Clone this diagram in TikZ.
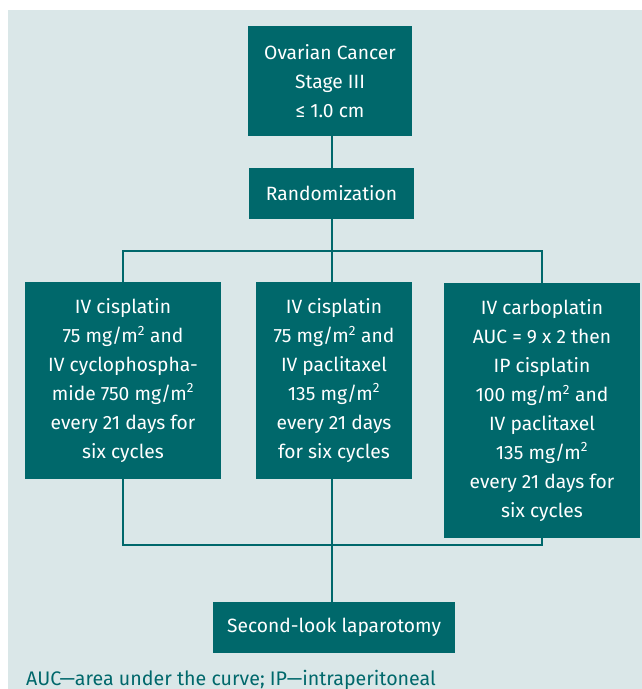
\documentclass[tikz,border=0pt]{standalone}
\usepackage{fontspec}
\setmainfont{Fira Sans}
\definecolor{teal0}{RGB}{0,104,107}
\definecolor{panel}{RGB}{218,231,232}
\begin{document}
\begin{tikzpicture}[x=1bp,y=-1bp,
  box/.style={fill=teal0,text=white,align=center,inner sep=0pt,
    font=\fontsize{19.3}{29}\selectfont},
  conn/.style={draw=teal0,line width=2bp}]
\useasboundingbox (0,0) rectangle (642,689);
\fill[panel] (8,10) rectangle (642,689);
\node[box,minimum width=164bp,minimum height=110bp] (top) at (330,81) {Ovarian Cancer\\Stage III\\≤ 1.0 cm};
\node[box,minimum width=165bp,minimum height=51bp] (rand) at (331.5,193.5) {Randomization};
\node[box,minimum width=196bp,minimum height=197bp] (left) at (123,380.5) {IV cisplatin\\75 mg/m\textsuperscript{2} and\\IV cyclophospha-\\mide 750 mg/m\textsuperscript{2}\\every 21 days for\\six cycles};
\node[box,minimum width=156bp,minimum height=197bp] (mid) at (334,380.5) {IV cisplatin\\75 mg/m\textsuperscript{2} and\\IV paclitaxel\\135 mg/m\textsuperscript{2}\\every 21 days\\for six cycles};
\node[box,minimum width=196bp,minimum height=255bp] (right) at (542,410.5) {IV carboplatin\\AUC = 9 x 2 then\\IP cisplatin\\100 mg/m\textsuperscript{2} and\\IV paclitaxel\\135 mg/m\textsuperscript{2}\\every 21 days for\\six cycles};
\node[box,minimum width=242bp,minimum height=51bp] (bottom) at (334,627.5) {Second-look laparotomy};
\node[anchor=base west,inner sep=0pt,text=teal0,font=\fontsize{19.7}{22}\selectfont] (cap) at (26,685) {AUC—area under the curve; IP—intraperitoneal};
\coordinate (hj) at (332,251);
\coordinate (bj) at (332,545);
\draw[conn] (top.south -| hj) -- (rand.north -| hj);
\draw[conn] (rand.south -| hj) -- (hj);
\draw[conn] (left.north) -- (left.north |- hj) -- (right.north |- hj) -- (right.north);
\draw[conn] (hj) -- (mid.north -| hj);
\draw[conn] (left.south) -- (left.south |- bj) -- (right.south |- bj) -- (right.south);
\draw[conn] (mid.south -| bj) -- (bj);
\draw[conn] (bj) -- (bj |- bottom.north);
\end{tikzpicture}
\end{document}
